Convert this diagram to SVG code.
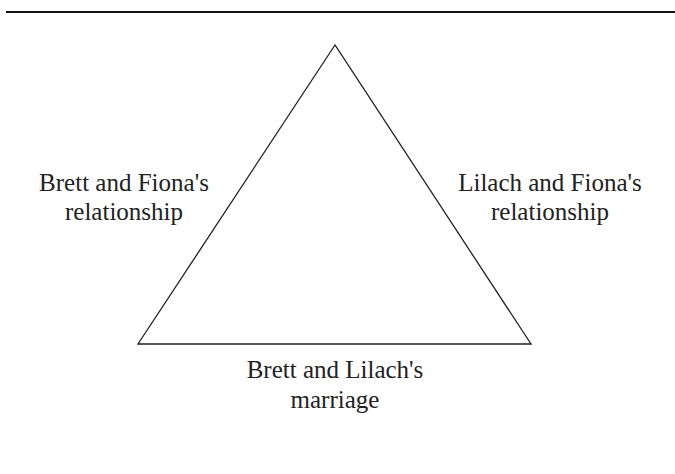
<svg xmlns="http://www.w3.org/2000/svg" width="675" height="474" viewBox="0 0 675 474">
<style>
.t{font-family:"Liberation Serif","Times New Roman",serif;font-size:25px;fill:#222;text-anchor:middle}
.ln{fill:none;stroke:#222;stroke-width:1.3}
</style>
<rect width="675" height="474" fill="#fff"/>
<line x1="6" y1="12" x2="675" y2="12" stroke="#111" stroke-width="2.2"/>
<g id="connectors">
<polygon class="ln" points="335,45 138,344 531,344"/>
</g>
<g id="brett-fiona">
<text class="t" x="124" y="191">Brett and Fiona's</text>
<text class="t" x="124" y="220">relationship</text>
</g>
<g id="lilach-fiona">
<text class="t" x="550" y="191">Lilach and Fiona's</text>
<text class="t" x="550" y="220">relationship</text>
</g>
<g id="brett-lilach">
<text class="t" x="335" y="378">Brett and Lilach's</text>
<text class="t" x="335" y="408">marriage</text>
</g>
</svg>
